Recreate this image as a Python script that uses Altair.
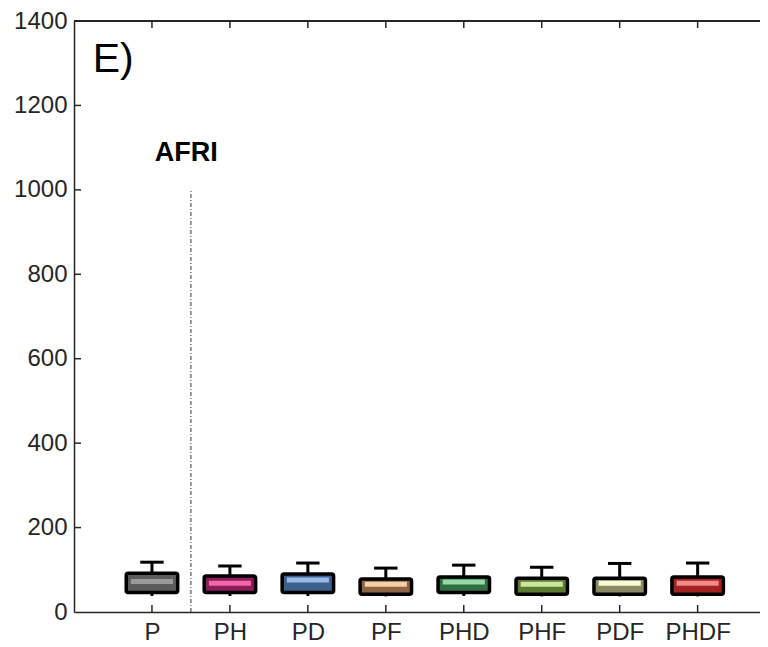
import altair as alt
import pandas as pd

groups = ["P", "PH", "PD", "PF", "PHD", "PHF", "PDF", "PHDF"]
positions = [1, 2, 3, 4, 5, 6, 7, 8]
whisker_low = [38, 38, 38, 37, 38, 37, 37, 37]
q1 = [46, 46, 46, 42, 46, 42, 42, 42]
median = [72, 68, 76, 66, 71, 66, 68, 68]
q3 = [92, 85, 90, 78, 83, 80, 80, 83]
whisker_high = [118, 109, 116, 104, 111, 106, 115, 116]
dark_colors = ["#5c5c5c", "#8e1b5c", "#3c5f8e", "#8c6642", "#2f6f40", "#5b7b32", "#8a8a62", "#a52222"]
light_colors = ["#9a9a9a", "#ee67a8", "#98bae6", "#f7cfa6", "#97d9a6", "#cde59a", "#fafad6", "#f28a8a"]
y_ticks = [0, 200, 400, 600, 800, 1000, 1200, 1400]

box_half = 0.33
cap_half = 0.15
band_half = 0.27
x_max = 8.8
plot_h = 591

df = pd.DataFrame({
    "group": groups, "pos": positions, "lo": whisker_low, "q1": q1, "med": median,
    "q3": q3, "hi": whisker_high, "dark": dark_colors, "light": light_colors,
})
df["bx1"] = df["pos"] - box_half
df["bx2"] = df["pos"] + box_half
df["cx1"] = df["pos"] - cap_half
df["cx2"] = df["pos"] + cap_half
df["mx1"] = df["pos"] - band_half
df["mx2"] = df["pos"] + band_half

xs = alt.Scale(domain=[0, x_max], nice=False, zero=False)
ys = alt.Scale(domain=[0, 1400], nice=False)

base = alt.Chart(df)

x_axis = alt.Axis(values=positions, labelExpr="['','P','PH','PD','PF','PHD','PHF','PDF','PHDF'][datum.value]",
                  title=None, grid=False, tickSize=0, labelFontSize=24, labelFont="Liberation Sans",
                  labelColor="#262626", domainColor="#262626", domainWidth=1.5, labelPadding=8)
y_axis = alt.Axis(values=y_ticks, format="d", title=None, grid=False, tickSize=0, labelFontSize=24,
                  labelFont="Liberation Sans", labelColor="#262626", domainColor="#262626",
                  domainWidth=1.5, labelPadding=7)

whisk = base.mark_rule(color="black", strokeWidth=3).encode(
    x=alt.X("pos:Q", scale=xs, axis=x_axis), y=alt.Y("lo:Q", scale=ys, axis=y_axis), y2="hi:Q")
cap = base.mark_rule(color="black", strokeWidth=3).encode(
    x=alt.X("cx1:Q", scale=xs), x2="cx2:Q", y=alt.Y("hi:Q", scale=ys))
box = base.mark_rect(stroke="black", strokeWidth=3.5, cornerRadius=2).encode(
    x=alt.X("bx1:Q", scale=xs), x2="bx2:Q", y=alt.Y("q1:Q", scale=ys), y2="q3:Q",
    fill=alt.Fill("dark:N", scale=None))
band = base.mark_rule(strokeWidth=5).encode(
    x=alt.X("mx1:Q", scale=xs), x2="mx2:Q", y=alt.Y("med:Q", scale=ys),
    color=alt.Color("light:N", scale=None))

tick_df = pd.DataFrame({"v": y_ticks[1:-1]})
left_ticks = alt.Chart(tick_df).mark_rule(color="#262626", strokeWidth=1.5).encode(
    y=alt.Y("v:Q", scale=ys), x=alt.value(0), x2=alt.value(7))
pos_df = pd.DataFrame({"p": positions})
bottom_ticks = alt.Chart(pos_df).mark_rule(color="#262626", strokeWidth=1.5).encode(
    x=alt.X("p:Q", scale=xs), y=alt.value(plot_h), y2=alt.value(plot_h - 7))
top_ticks = alt.Chart(pos_df).mark_rule(color="#262626", strokeWidth=1.5).encode(
    x=alt.X("p:Q", scale=xs), y=alt.value(0), y2=alt.value(7))
top_line = alt.Chart(pos_df).mark_rule(color="#262626", strokeWidth=1.5).encode(
    x=alt.datum(0), x2=alt.datum(x_max), y=alt.value(0))

sep = alt.Chart(pd.DataFrame({"x": [1.5], "y0": [0], "y1": [1000]})).mark_rule(
    color="#333333", strokeWidth=1, strokeDash=[4, 2, 1, 2]).encode(
    x=alt.X("x:Q", scale=xs), y=alt.Y("y0:Q", scale=ys), y2="y1:Q")

afri = alt.Chart(pd.DataFrame({"x": [1.44], "y": [1088], "t": ["AFRI"]})).mark_text(
    fontSize=27, fontWeight="bold", font="Liberation Sans", color="black").encode(
    x=alt.X("x:Q", scale=xs), y=alt.Y("y:Q", scale=ys), text="t:N")
label = alt.Chart(pd.DataFrame({"x": [0.24], "y": [1308], "t": ["E)"]})).mark_text(
    fontSize=41, font="Liberation Sans", color="black", align="left").encode(
    x=alt.X("x:Q", scale=xs), y=alt.Y("y:Q", scale=ys), text="t:N")

chart = alt.layer(whisk, cap, box, band, left_ticks, bottom_ticks, top_ticks, top_line, sep, afri, label).properties(
    width=686, height=plot_h,
    autosize=alt.AutoSizeParams(type="none"),
    padding={"left": 66, "top": 13, "right": 0, "bottom": 34},
).configure_view(stroke=None).configure(background="white")

chart.save("out.html", embed_options={"renderer": "svg", "actions": False})
